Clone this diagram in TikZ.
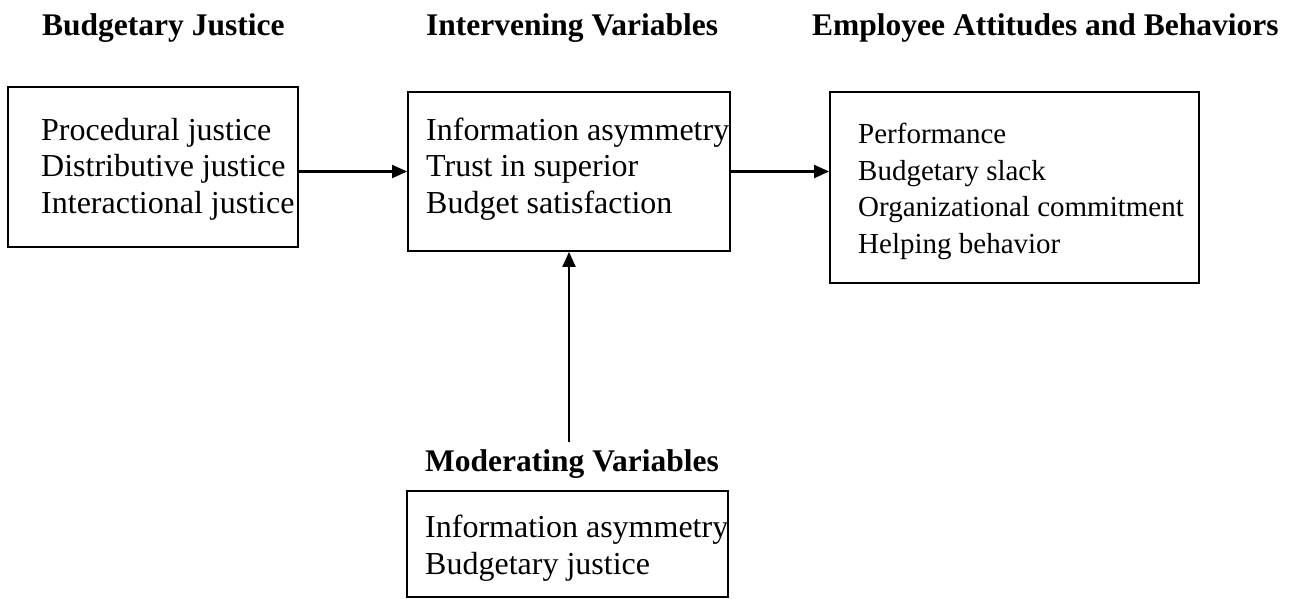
\documentclass[tikz,border=0pt]{standalone}
\usepackage{fontspec}
\setmainfont{Liberation Serif}
\usetikzlibrary{arrows.meta}

\begin{document}
\begin{tikzpicture}[
  x=1pt, y=-1pt,
  framebox/.style={draw, line width=1.8pt, inner sep=0pt},
  itemlist/.style={anchor=west, align=left, inner sep=0pt,
    font=\fontsize{32pt}{36.6pt}\selectfont},
  heading/.style={anchor=base west, inner sep=0pt,
    font=\fontsize{31.5pt}{36pt}\selectfont\bfseries},
  flow/.style={line width=2.1pt, -{Triangle[length=15pt,width=13pt]}}
]
\useasboundingbox (0,0) rectangle (1295,598);

% column headings
\node[heading] (hbj) at (42,35)  {Budgetary Justice};
\node[heading] (hiv) at (426,35) {Intervening Variables};
\node[heading] (hea) at (812,35) {Employee Attitudes and Behaviors};
\node[heading] (hmv) at (425,471) {Moderating Variables};

% frames
\node[framebox, minimum width=290pt, minimum height=160pt] (bj) at (153,167) {};
\node[framebox, minimum width=322pt, minimum height=159pt] (iv) at (569,171.5) {};
\node[framebox, minimum width=369pt, minimum height=191pt] (ea) at (1014.5,187.5) {};
\node[framebox, minimum width=321pt, minimum height=106pt] (mv) at (567.5,544) {};

% frame contents
\node[itemlist] (tbj) at (41,169)
  {Procedural justice\\Distributive justice\\Interactional justice};
\node[itemlist] (tiv) at (426,169)
  {Information asymmetry\\Trust in superior\\Budget satisfaction};
\node[itemlist, font=\fontsize{29pt}{36.7pt}\selectfont] (tea) at (858,191.3)
  {Performance\\Budgetary slack\\Organizational commitment\\Helping behavior};
\node[itemlist] (tmv) at (425,548)
  {Information asymmetry\\Budgetary justice};

% connectors
\draw[flow] (bj.east |- iv.west) -- (iv.west);
\draw[flow] (iv.east) -- (iv.east -| ea.west);
\draw[flow] ([yshift=7pt]iv.south |- hmv.north) -- (iv.south);
\end{tikzpicture}
\end{document}
